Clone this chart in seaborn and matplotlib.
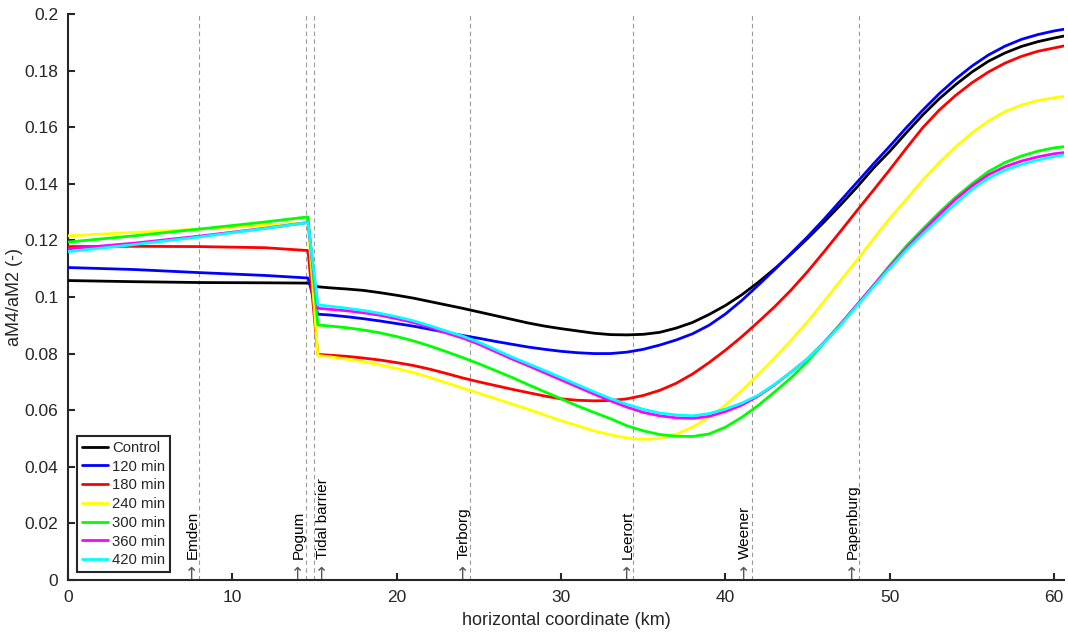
import numpy as np
import pandas as pd
import matplotlib
matplotlib.use("Agg")
import matplotlib.pyplot as plt
from matplotlib.ticker import FuncFormatter
import seaborn as sns

# horizontal coordinate (km)
x_km = [0, 4, 8, 12, 14.6, 15.2] + list(range(16, 61)) + [60.6]

control = [0.1058, 0.1054, 0.1051, 0.1050, 0.1049, 0.1036,
           0.1032, 0.1028, 0.1023, 0.1015, 0.1006, 0.0996, 0.0984, 0.0972, 0.0960, 0.0947,
           0.0934, 0.0921, 0.0908, 0.0897, 0.0888, 0.0880, 0.0872, 0.0867, 0.0866, 0.0868,
           0.0875, 0.0890, 0.0910, 0.0938, 0.0970, 0.1008, 0.1052, 0.1100, 0.1152, 0.1207,
           0.1265, 0.1325, 0.1388, 0.1455, 0.1515, 0.1580, 0.1643, 0.1700, 0.1750, 0.1795,
           0.1833, 0.1862, 0.1885, 0.1902, 0.1915,
           0.1922]
m120 = [0.1104, 0.1097, 0.1086, 0.1076, 0.1067, 0.0939,
        0.0936, 0.0930, 0.0923, 0.0915, 0.0906, 0.0897, 0.0886, 0.0875, 0.0864, 0.0854,
        0.0843, 0.0833, 0.0823, 0.0815, 0.0808, 0.0803, 0.0800, 0.0800, 0.0805, 0.0815,
        0.0830, 0.0848, 0.0870, 0.0900, 0.0940, 0.0988, 0.1042, 0.1097, 0.1155, 0.1213,
        0.1275, 0.1340, 0.1405, 0.1470, 0.1533, 0.1598, 0.1660, 0.1718, 0.1770, 0.1816,
        0.1855, 0.1886, 0.1910, 0.1927, 0.1940,
        0.1946]
m180 = [0.1178, 0.1179, 0.1178, 0.1174, 0.1164, 0.0797,
        0.0794, 0.0790, 0.0784, 0.0777, 0.0768, 0.0758, 0.0745, 0.0730, 0.0714, 0.0700,
        0.0687, 0.0674, 0.0662, 0.0650, 0.0640, 0.0635, 0.0633, 0.0634, 0.0640, 0.0652,
        0.0670, 0.0695, 0.0728, 0.0768, 0.0812, 0.0860, 0.0912, 0.0966, 0.1025, 0.1090,
        0.1160, 0.1232, 0.1305, 0.1377, 0.1450, 0.1525, 0.1598, 0.1660, 0.1712, 0.1757,
        0.1795, 0.1826, 0.1850, 0.1868, 0.1880,
        0.1887]
m240 = [0.1216, 0.1228, 0.1240, 0.1253, 0.1263, 0.0793,
        0.0788, 0.0780, 0.0771, 0.0760, 0.0747, 0.0733, 0.0716, 0.0697, 0.0678, 0.0660,
        0.0641, 0.0622, 0.0603, 0.0583, 0.0563, 0.0545, 0.0527, 0.0513, 0.0502, 0.0497,
        0.0500, 0.0515, 0.0540, 0.0575, 0.0618, 0.0670, 0.0726, 0.0785, 0.0848, 0.0913,
        0.0985, 0.1058, 0.1130, 0.1205, 0.1278, 0.1345, 0.1413, 0.1475, 0.1530, 0.1580,
        0.1622, 0.1655, 0.1678, 0.1694, 0.1704,
        0.1708]
m300 = [0.1194, 0.1216, 0.1240, 0.1265, 0.1283, 0.0901,
        0.0897, 0.0891, 0.0883, 0.0873, 0.0860, 0.0845, 0.0827, 0.0807, 0.0786, 0.0764,
        0.0740, 0.0716, 0.0690, 0.0665, 0.0640, 0.0615, 0.0592, 0.0570, 0.0545, 0.0527,
        0.0514, 0.0508, 0.0507, 0.0516, 0.0540, 0.0575, 0.0617, 0.0665, 0.0715, 0.0772,
        0.0838, 0.0905, 0.0972, 0.1040, 0.1112, 0.1180, 0.1240, 0.1298, 0.1352, 0.1400,
        0.1443, 0.1475, 0.1498, 0.1515, 0.1527,
        0.1531]
m360 = [0.1170, 0.1190, 0.1215, 0.1243, 0.1263, 0.0960,
        0.0956, 0.0951, 0.0944, 0.0935, 0.0923, 0.0910, 0.0893, 0.0873, 0.0855, 0.0833,
        0.0807, 0.0781, 0.0757, 0.0732, 0.0707, 0.0682, 0.0657, 0.0633, 0.0611, 0.0592,
        0.0580, 0.0573, 0.0571, 0.0578, 0.0595, 0.0618, 0.0650, 0.0690, 0.0735, 0.0782,
        0.0840, 0.0903, 0.0972, 0.1040, 0.1108, 0.1172, 0.1232, 0.1290, 0.1345, 0.1392,
        0.1432, 0.1460, 0.1480, 0.1495, 0.1506,
        0.1510]
m420 = [0.1160, 0.1185, 0.1212, 0.1242, 0.1263, 0.0972,
        0.0967, 0.0960, 0.0952, 0.0942, 0.0930, 0.0916, 0.0899, 0.0880, 0.0862, 0.0840,
        0.0814, 0.0788, 0.0764, 0.0740, 0.0715, 0.0690, 0.0665, 0.0641, 0.0621, 0.0603,
        0.0590, 0.0583, 0.0580, 0.0588, 0.0604, 0.0625, 0.0653, 0.0692, 0.0735, 0.0782,
        0.0838, 0.0900, 0.0968, 0.1035, 0.1102, 0.1165, 0.1222, 0.1277, 0.1330, 0.1380,
        0.1420, 0.1448, 0.1468, 0.1484, 0.1496,
        0.1502]

series_names = ["Control", "120 min", "180 min", "240 min", "300 min", "360 min", "420 min"]
series_vals = [control, m120, m180, m240, m300, m360, m420]
colors = ["#000000", "#0000ff", "#ff0000", "#ffff00", "#00ff00", "#ff00ff", "#00ffff"]

places = ["Emden", "Pogum", "Tidal barrier", "Terborg", "Leerort", "Weener", "Papenburg"]
place_km = [7.96, 14.47, 14.95, 24.44, 34.4, 41.6, 48.1]
label_shift = [-0.37, -0.45, 0.55, -0.37, -0.37, -0.4, -0.33]


def main():
    sns.set_style("ticks")
    plt.rcParams['font.family'] = ['Liberation Sans', 'DejaVu Sans']
    plt.rcParams['xtick.direction'] = 'in'
    plt.rcParams['ytick.direction'] = 'in'

    rows = []
    for name, vals in zip(series_names, series_vals):
        for xv, yv in zip(x_km, vals):
            rows.append({"x": xv, "y": yv, "run": name})
    df = pd.DataFrame(rows)

    fig = plt.figure(figsize=(10.68, 6.34), dpi=100)
    ax = fig.add_axes([0.0637, 0.0852, 0.9326, 0.8928])

    for xp in place_km:
        ax.axvline(xp, color="#9a9a9a", lw=0.8, ls=(0, (4, 3)), zorder=1)

    sns.lineplot(data=df, x="x", y="y", hue="run", hue_order=series_names,
                 palette=dict(zip(series_names, colors)), linewidth=2.0,
                 estimator=None, ax=ax, zorder=3)

    for name, xp, dx in zip(places, place_km, label_shift):
        ax.text(xp + dx, 0.0002, "\u2192", rotation=90, ha="center", va="bottom",
                fontsize=12, color="#555555", family="DejaVu Sans", zorder=4)
        ax.text(xp + dx, 0.0075, name, rotation=90, ha="center", va="bottom",
                fontsize=11, color="black", zorder=4)

    ax.set_xlim(0, 60.6)
    ax.set_ylim(0, 0.2)
    ax.set_xticks(np.arange(0, 61, 10))
    ax.set_yticks(np.arange(0, 0.2001, 0.02))
    ax.yaxis.set_major_formatter(FuncFormatter(lambda v, p: "%g" % round(v, 3)))
    ax.tick_params(labelsize=12.5, length=5, width=1.5, color="#262626", pad=7)
    sns.despine(ax=ax)
    for s in ["left", "bottom"]:
        ax.spines[s].set_linewidth(1.5)
        ax.spines[s].set_color("#262626")

    ax.set_xlabel("horizontal coordinate (km)", fontsize=13, labelpad=5)
    ax.set_ylabel("aM4/aM2 (-)", fontsize=13, labelpad=1)

    leg = ax.legend(loc="lower left", bbox_to_anchor=(0.009, 0.014), fontsize=10.7,
                    frameon=True, fancybox=False, handlelength=1.75,
                    handletextpad=0.27, labelspacing=0.32, borderpad=0.32,
                    borderaxespad=0)
    leg.get_frame().set_edgecolor("#262626")
    leg.get_frame().set_linewidth(1.5)
    leg.get_frame().set_alpha(1)
    for line in leg.get_lines():
        line.set_linewidth(2.0)

    fig.savefig("out.png", dpi=100)


if __name__ == "__main__":
    main()
